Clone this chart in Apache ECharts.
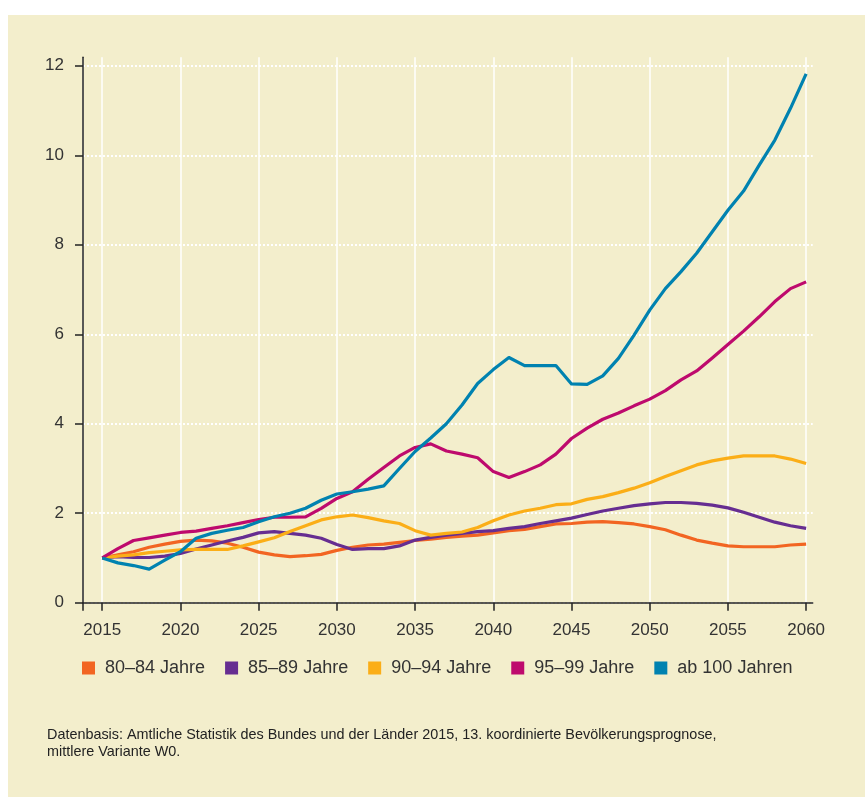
<!DOCTYPE html>
<html><head><meta charset="utf-8">
<script src="https://cdn.jsdelivr.net/npm/echarts@6/dist/echarts.min.js"></script>
<style>html,body{margin:0;padding:0;background:#fff}#c{width:865px;height:800px}</style>
</head><body><div id="c"></div>
<script>
const years = [2015,2016,2017,2018,2019,2020,2021,2022,2023,2024,2025,2026,2027,2028,2029,2030,2031,2032,2033,2034,2035,2036,2037,2038,2039,2040,2041,2042,2043,2044,2045,2046,2047,2048,2049,2050,2051,2052,2053,2054,2055,2056,2057,2058,2059,2060];
const s80_84 = [1.00,1.07,1.14,1.24,1.31,1.37,1.40,1.38,1.33,1.24, 1.13,1.07,1.03,1.05,1.08,1.17,1.24,1.29,1.31,1.35, 1.39,1.42,1.46,1.49,1.51,1.56,1.61,1.64,1.70,1.76, 1.77,1.80,1.81,1.79,1.76,1.70,1.63,1.51,1.40,1.33, 1.27,1.25,1.25,1.25,1.29,1.31];
const s85_89 = [1.00,1.03,1.01,1.01,1.04,1.10,1.20,1.29,1.38,1.46, 1.56,1.59,1.55,1.51,1.44,1.30,1.19,1.21,1.21,1.27, 1.40,1.46,1.51,1.55,1.59,1.61,1.66,1.70,1.77,1.83, 1.89,1.97,2.05,2.11,2.17,2.21,2.24,2.24,2.22,2.18, 2.12,2.02,1.91,1.80,1.72,1.66];
const s90_94 = [1.00,1.04,1.07,1.12,1.15,1.18,1.19,1.19,1.19,1.27, 1.36,1.45,1.59,1.72,1.85,1.92,1.96,1.90,1.83,1.77, 1.61,1.51,1.55,1.58,1.68,1.83,1.96,2.05,2.11,2.19, 2.21,2.31,2.37,2.46,2.56,2.68,2.82,2.95,3.08,3.17, 3.23,3.28,3.28,3.28,3.21,3.11];
const s95_99 = [1.00,1.21,1.39,1.45,1.51,1.57,1.60,1.66,1.72,1.79, 1.86,1.91,1.91,1.92,2.11,2.33,2.48,2.76,3.02,3.28, 3.47,3.55,3.39,3.32,3.24,2.93,2.80,2.93,3.08,3.32, 3.67,3.90,4.10,4.24,4.40,4.55,4.74,4.98,5.18,5.47, 5.77,6.07,6.39,6.73,7.02,7.17];
const s100 = [1.00,0.89,0.83,0.75,0.95,1.14,1.44,1.55,1.62,1.68, 1.81,1.92,2.00,2.11,2.29,2.43,2.48,2.54,2.61,3.00, 3.38,3.68,4.00,4.42,4.90,5.21,5.48,5.30,5.30,5.30, 4.89,4.88,5.07,5.46,5.98,6.54,7.02,7.40,7.81,8.29, 8.77,9.20,9.78,10.34,11.05,11.82];
const seriesNames = ['80\u201384 Jahre','85\u201389 Jahre','90\u201394 Jahre','95\u201399 Jahre','ab 100 Jahren'];
const seriesValues = [s80_84, s85_89, s90_94, s95_99, s100];
const colors = ['#F26522','#662D91','#FBAE17','#BE0A6D','#0082B0'];
const xTickLabels = [2015,2020,2025,2030,2035,2040,2045,2050,2055,2060];
const yTickLabels = [0,2,4,6,8,10,12];
const footnote = ['Datenbasis: Amtliche Statistik des Bundes und der L\u00e4nder 2015, 13. koordinierte Bev\u00f6lkerungsprognose,','mittlere Variante W0.'];

const X_MIN = 2013.77, X_MAX = 2060.42;
const font = '"Liberation Sans", Arial, sans-serif';
const chart = echarts.init(document.getElementById('c'));
chart.setOption({
  animation: false,
  backgroundColor: '#ffffff',
  color: colors,
  graphic: [
    {type:'rect', z:-10, silent:true, shape:{x:8,y:15,width:857,height:782}, style:{fill:'#F3EECC'}},
    {type:'text', left:47, top:727, silent:true, style:{text: footnote.join('\n'), fontSize:14.4, fontFamily:font, fill:'#222', lineHeight:16.5}}
  ],
  grid: {left:83, right:52.3, top:57.3, bottom:197.3},
  legend: {
    left: 82, top: 659, padding: 0, icon: 'rect', itemWidth: 13, itemHeight: 13, itemGap: 20,
    textStyle: {fontSize: 18, fontFamily: font, color: '#333', padding:[0,0,0,5]},
    data: seriesNames
  },
  xAxis: {
    type: 'value', min: X_MIN, max: X_MAX,
    axisLine: {show:true, onZero:false, lineStyle:{color:'#222', width:1.5}},
    axisTick: {show:true, customValues:[X_MIN].concat(xTickLabels), length:8, lineStyle:{color:'#222', width:1.5}},
    axisLabel: {customValues: xTickLabels, formatter: v => String(v), margin: 19, fontSize: 17, fontFamily: font, color: '#333'},
    splitLine: {show:true, lineStyle:{color:'#ffffff', width:1.5}}
  },
  yAxis: {
    type: 'value', min: 0, max: 12.19,
    axisLine: {show:true, lineStyle:{color:'#222', width:1.5}},
    axisTick: {show:true, customValues: yTickLabels, length:8, lineStyle:{color:'#222', width:1.5}},
    axisLabel: {customValues: yTickLabels, formatter: v => String(v), margin: 19, fontSize: 17, fontFamily: font, color: '#333'},
    splitLine: {show:true, lineStyle:{color:'#ffffff', width:2, type:[2,2]}}
  },
  series: seriesNames.map((name, i) => ({
    name, type: 'line', showSymbol: false, symbol:'none',
    lineStyle: {width: 3.2, color: colors[i], join:'round'},
    itemStyle: {color: colors[i]},
    data: years.map((y, j) => [y, seriesValues[i][j]])
  }))
});
</script></body></html>
